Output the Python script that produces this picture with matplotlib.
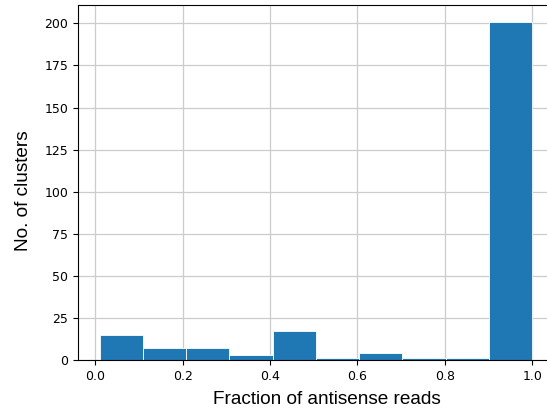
import numpy as np
import matplotlib.pyplot as plt

# bin edges of the antisense fraction histogram and the counts
bin_edges = np.linspace(0.01, 1.0, 11)
counts = [15, 7, 7, 3, 17, 1, 4, 1, 1, 201]

fig = plt.figure(figsize=(5.47, 4.16), dpi=100)
ax = fig.add_axes([0.1426, 0.1346, 0.870, 0.854])

centers = (bin_edges[:-1] + bin_edges[1:]) / 2
ax.hist(centers, bins=bin_edges, weights=counts, color='#1f77b4', edgecolor='white', linewidth=0.6)
ax.grid(True, color='#cccccc', linewidth=0.9)
ax.set_axisbelow(True)

ax.set_xlabel('Fraction of antisense reads', family='Liberation Sans', fontsize=13.7, labelpad=6)
ax.set_ylabel('No. of clusters', family='Liberation Sans', fontsize=13.7, labelpad=9)
# the original figure was cropped on the right, so the labels sit off-centre
ax.xaxis.label.set_x(0.523)
ax.yaxis.label.set_y(0.477)
ax.tick_params(labelsize=9)

fig.savefig('out.png', dpi=100)
